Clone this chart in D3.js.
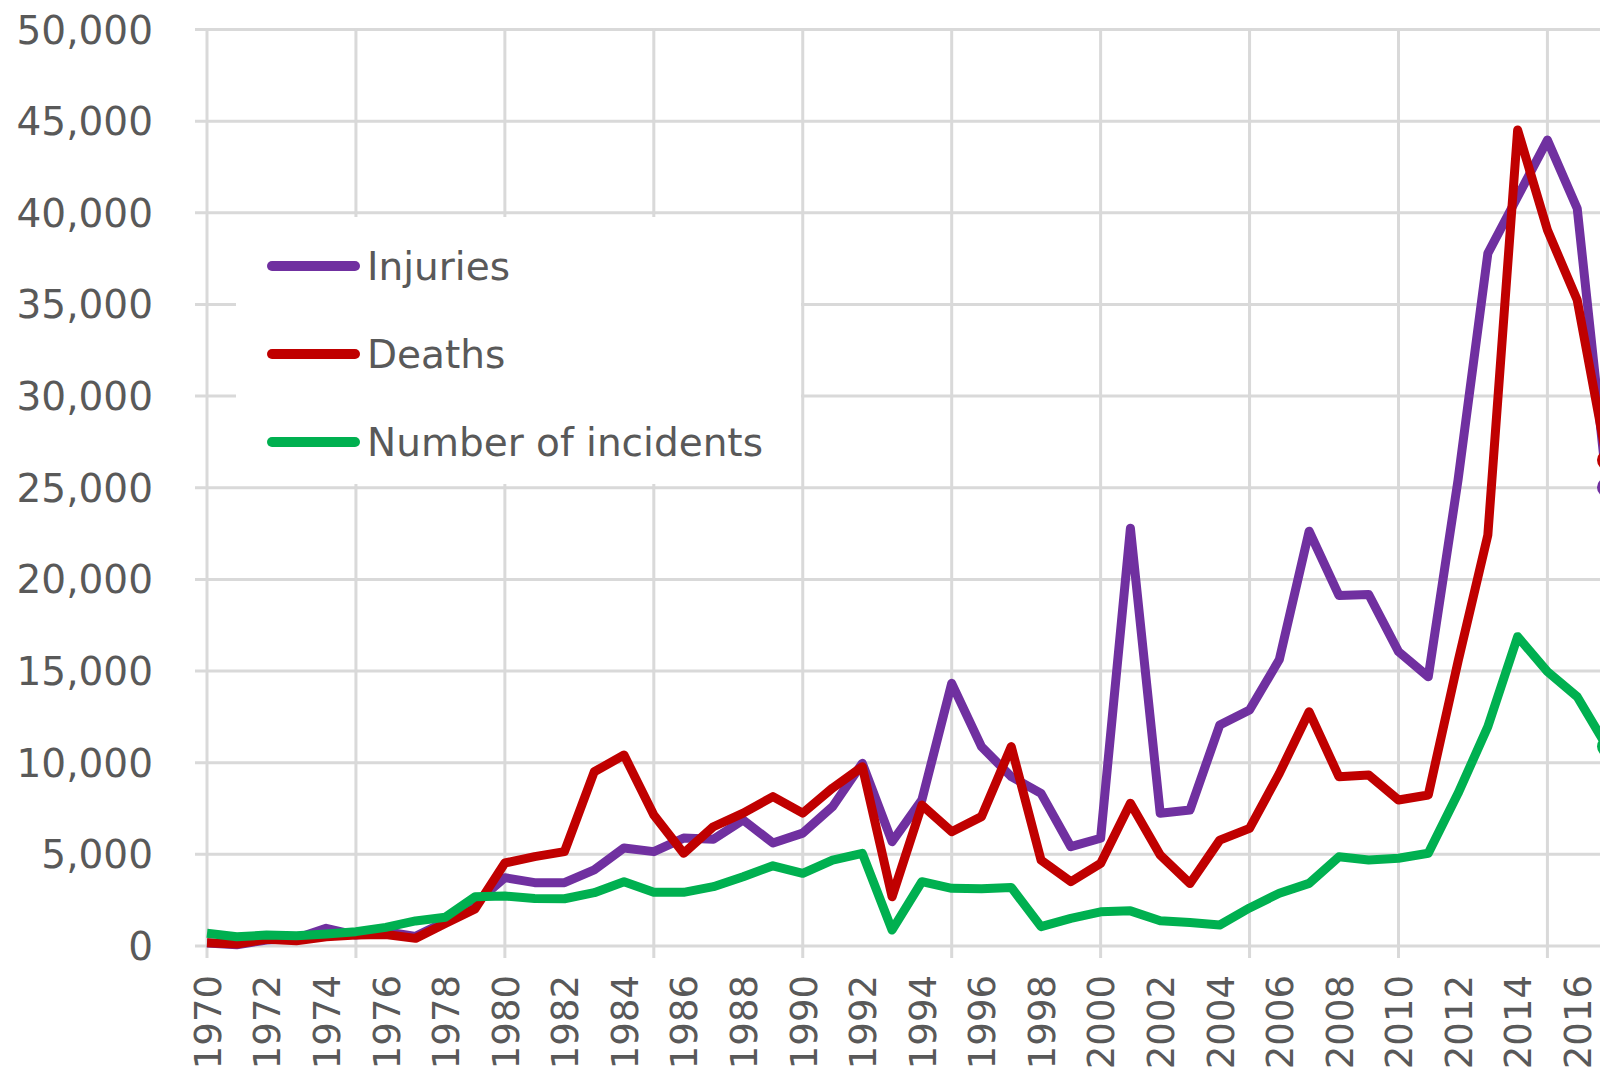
<!DOCTYPE html>
<html>
<head>
<meta charset="utf-8">
<script src="https://cdn.jsdelivr.net/npm/d3@7"></script>
<style>
  body { margin: 0; background: #fff; }
  text { font-family: "DejaVu Sans", sans-serif; fill: #595959; }
</style>
</head>
<body>
<div id="chart"></div>
<script>
var years = [1970, 1971, 1972, 1973, 1974, 1975, 1976, 1977, 1978, 1979,
  1980, 1981, 1982, 1983, 1984, 1985, 1986, 1987, 1988, 1989,
  1990, 1991, 1992, 1993, 1994, 1995, 1996, 1997, 1998, 1999,
  2000, 2001, 2002, 2003, 2004, 2005, 2006, 2007, 2008, 2009,
  2010, 2011, 2012, 2013, 2014, 2015, 2016, 2017]

var injuries = [130, 40, 300, 400, 940, 570, 750, 500, 1300, 2300,
  3700, 3430, 3430, 4120, 5320, 5120, 5860, 5800, 6850, 5590,
  6130, 7570, 9940, 5660, 7940, 14300, 10850, 9210, 8300, 5390,
  5850, 22760, 7210, 7390, 12030, 12850, 15600, 22600, 19100, 19150,
  16030, 14660, 25400, 37760, 40850, 43940, 40210, 25000]

var deaths = [155, 80, 340, 260, 480, 570, 600, 390, 1200, 2000,
  4500, 4850, 5120, 9480, 10390, 7120, 5030, 6480, 7220, 8120,
  7220, 8590, 9750, 2660, 7660, 6210, 7030, 10850, 4660, 3480,
  4480, 7760, 4940, 3380, 5750, 6390, 9390, 12750, 9210, 9300,
  7940, 8210, 15500, 22400, 44490, 39030, 35210, 26480]

var incidents = [665, 480, 570, 535, 630, 755, 990, 1340, 1540, 2660,
  2700, 2570, 2550, 2880, 3480, 2900, 2900, 3210, 3750, 4350,
  3940, 4660, 5030, 845, 3480, 3120, 3090, 3170, 1030, 1480,
  1840, 1890, 1350, 1250, 1120, 2050, 2850, 3390, 4840, 4660,
  4760, 5030, 8300, 11940, 16850, 14940, 13570, 10850]

var seriesNames = ["Injuries", "Deaths", "Number of incidents"]
var seriesColors = ["#7030a0", "#c00000", "#00b050"]

var yTicks = [0, 5000, 10000, 15000, 20000, 25000, 30000, 35000, 40000, 45000, 50000]
var xLabels = [1970, 1972, 1974, 1976, 1978, 1980, 1982, 1984, 1986, 1988, 1990, 1992,
  1994, 1996, 1998, 2000, 2002, 2004, 2006, 2008, 2010, 2012, 2014, 2016]
var xGrid = [1970, 1975, 1980, 1985, 1990, 1995, 2000, 2005, 2010, 2015]

var W = 1600, H = 1073
var gridColor = "#d9d9d9"

var svg = d3.select("#chart")
  .append("svg")
    .attr("width", W)
    .attr("height", H)

var x = d3.scaleLinear().domain([1970, 2017]).range([207, 1607])
var y = d3.scaleLinear().domain([0, 50000]).range([945.5, 29])

// horizontal grid + y labels
var yAxis = svg.append("g")
  .attr("transform", "translate(195,0)")
  .call(d3.axisLeft(y).tickValues(yTicks).tickSize(-(W - 195)).tickPadding(42).tickFormat(d3.format(",")))
yAxis.select(".domain").remove()
yAxis.selectAll("line").attr("stroke", gridColor).attr("stroke-width", 3)
yAxis.selectAll("text")
  .attr("dy", "0.36em")
  .style("font-size", "39px")
  .style("font-family", "DejaVu Sans")
  .attr("fill", "#595959")

// vertical grid
svg.append("g")
  .selectAll("line")
  .data(xGrid).enter()
  .append("line")
    .attr("x1", function(d) { return x(d) })
    .attr("x2", function(d) { return x(d) })
    .attr("y1", y(50000))
    .attr("y2", 958)
    .attr("stroke", gridColor)
    .attr("stroke-width", 3)

// x labels, rotated
var xAxis = svg.append("g")
  .attr("transform", "translate(0,975)")
  .call(d3.axisBottom(x).tickValues(xLabels).tickSize(0).tickFormat(d3.format("d")))
xAxis.select(".domain").remove()
xAxis.selectAll("text")
  .attr("y", 0)
  .attr("dy", "0.36em")
  .attr("transform", "rotate(-90)")
  .style("text-anchor", "end")
  .style("font-size", "37px")
  .style("font-family", "DejaVu Sans")
  .attr("fill", "#595959")

// lines
var allSeries = [injuries, deaths, incidents]
var line = d3.line()
  .x(function(d, i) { return x(years[i]) })
  .y(function(d) { return y(d) })

allSeries.forEach(function(s, k) {
  svg.append("path")
    .datum(s)
    .attr("d", line)
    .attr("fill", "none")
    .attr("stroke", seriesColors[k])
    .attr("stroke-width", 9)
    .attr("stroke-linejoin", "round")
  // end marker
  svg.append("circle")
    .attr("cx", x(years[years.length - 1]))
    .attr("cy", y(s[s.length - 1]))
    .attr("r", 10)
    .attr("fill", seriesColors[k])
})

// legend
var legend = svg.append("g")
legend.append("rect")
  .attr("x", 236).attr("y", 217)
  .attr("width", 565).attr("height", 267)
  .attr("fill", "#fff")

var legY = [266, 354, 442]
seriesNames.forEach(function(name, k) {
  legend.append("line")
    .attr("x1", 272).attr("x2", 355)
    .attr("y1", legY[k]).attr("y2", legY[k])
    .attr("stroke", seriesColors[k])
    .attr("stroke-width", 10)
    .attr("stroke-linecap", "round")
  legend.append("text")
    .attr("x", 367)
    .attr("y", legY[k])
    .attr("dy", "0.36em")
    .style("font-size", "39px")
    .text(name)
})
</script>
</body>
</html>
